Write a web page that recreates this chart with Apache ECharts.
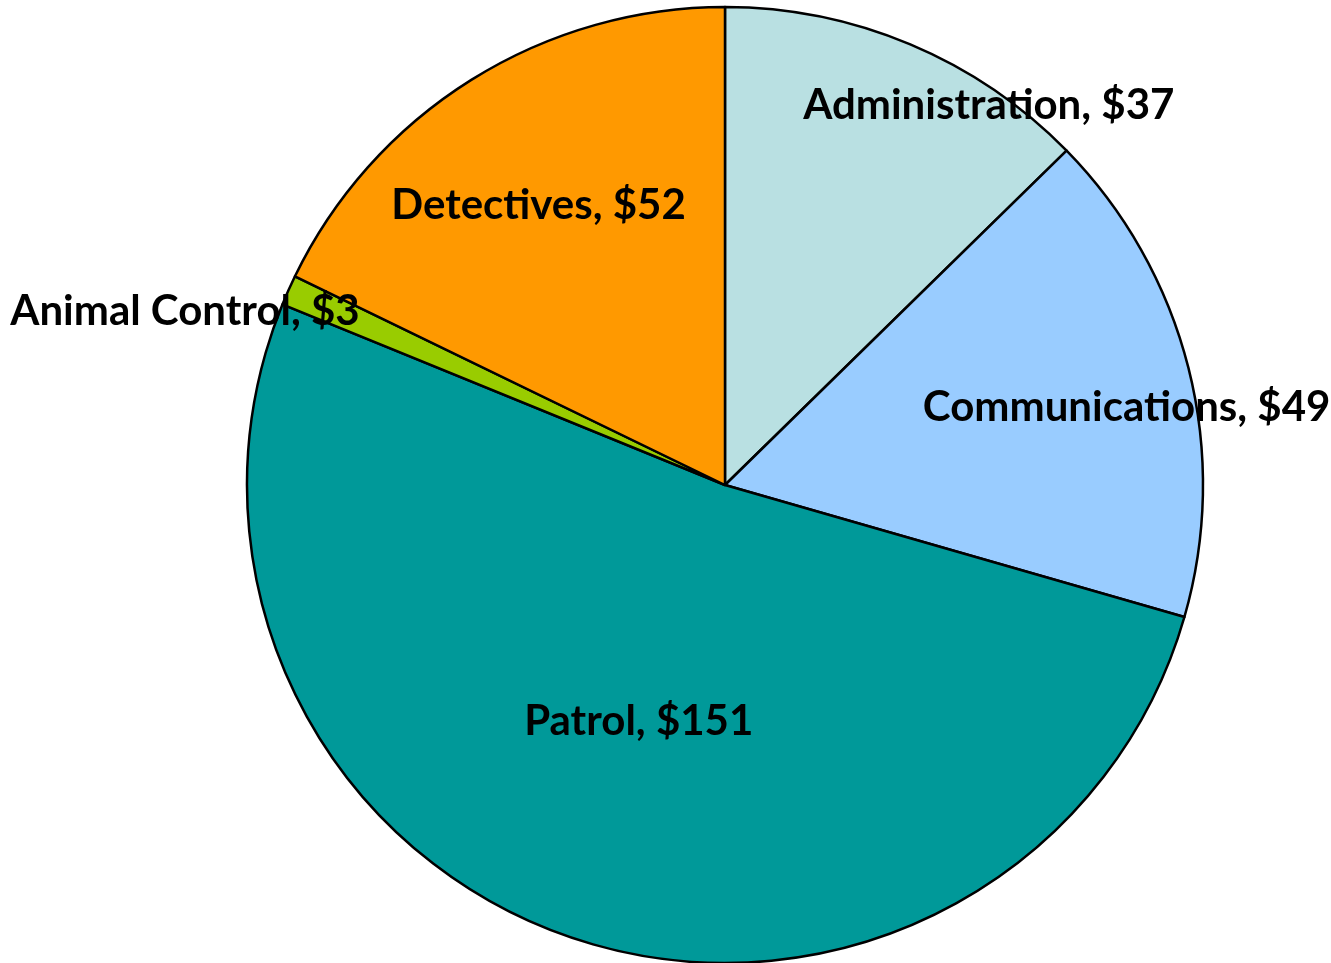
<!DOCTYPE html>
<html>
<head>
<meta charset="utf-8">
<script src="https://cdn.jsdelivr.net/npm/echarts@6/dist/echarts.min.js"></script>
<style>
  html, body { margin: 0; padding: 0; background: #fff; }
  #chart { width: 1331px; height: 963px; }
</style>
</head>
<body>
<div id="chart"></div>
<script>
// 数据
const categories = ['Administration', 'Communications', 'Patrol', 'Animal Control', 'Detectives']
const values = [37, 49, 151, 3, 52]
const colors = ['#B9E0E2', '#99CCFF', '#009999', '#99CC00', '#FF9900']
// 标签相对默认位置的偏移
const labelOffsets = [[170, -156], [167, -18], [-7, 8], [-319, -75], [-58, -74]]

const chart = echarts.init(document.getElementById('chart'))

const option = {
  animation: false,
  series: [
    {
      type: 'pie',
      center: [725, 485],
      radius: 478,
      startAngle: 90,
      clockwise: true,
      avoidLabelOverlap: false,
      itemStyle: { borderColor: '#000', borderWidth: 2.5 },
      label: {
        show: true,
        position: 'inside',
        formatter: p => p.name + ', $' + p.value,
        fontFamily: 'Lato',
        fontWeight: 'bold',
        fontSize: 42,
        color: '#000'
      },
      labelLine: { show: false },
      emphasis: { disabled: true },
      data: categories.map((name, i) => ({
        name,
        value: values[i],
        itemStyle: { color: colors[i] },
        label: { offset: labelOffsets[i] }
      }))
    }
  ]
}
chart.setOption(option)
</script>
</body>
</html>
